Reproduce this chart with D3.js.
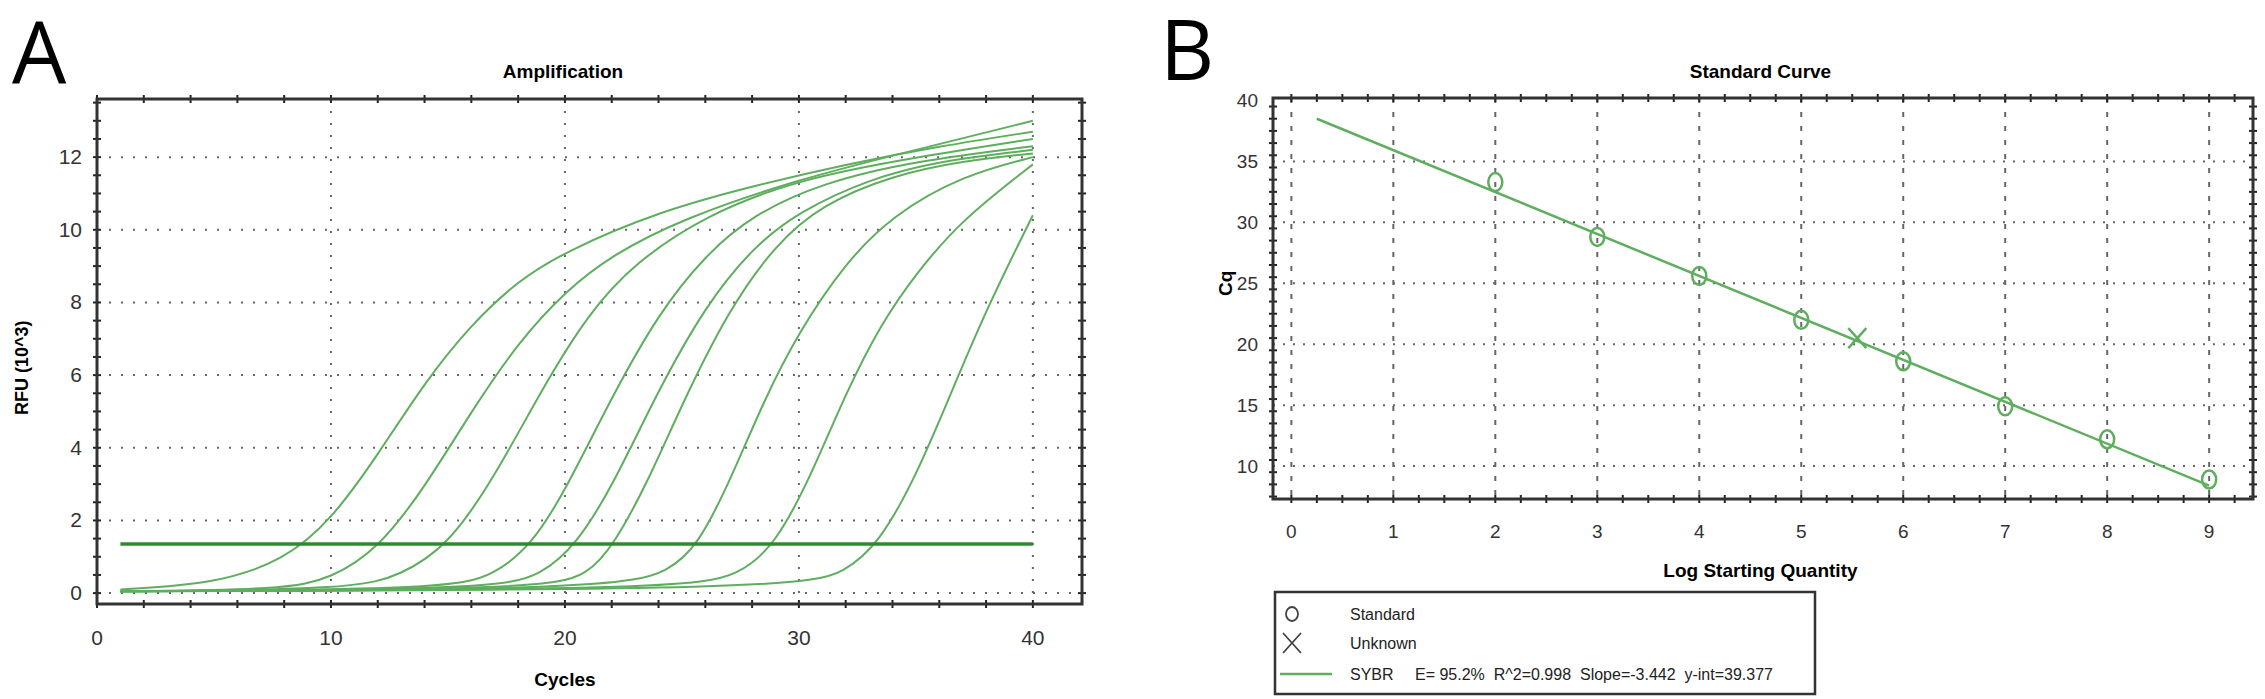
<!DOCTYPE html>
<html><head><meta charset="utf-8">
<script src="https://cdn.jsdelivr.net/npm/d3@7"></script>
<style>body{margin:0;background:#fff}svg{font-family:"Liberation Sans",Arial,sans-serif}</style>
</head><body>
<script>
// ---- data ----
const ampCurves = [
  [[1,0.1],[5,0.25],[8,0.9],[10,2],[12,3.8],[14,5.8],[16,7.4],[18,8.6],[20,9.4],[24,10.5],[28,11.2],[32,11.8],[36,12.3],[40,12.7]],
  [[1,0.05],[8,0.1],[10,0.4],[12,1.2],[14,2.9],[16,5],[18,6.9],[20,8.3],[22,9.3],[25,10.3],[30,11.4],[35,12.2],[40,13.0]],
  [[1,0.05],[11,0.1],[13,0.5],[15,1.3],[17,3.2],[19,5.6],[21,7.7],[23,9.1],[26,10.4],[30,11.4],[35,12.0],[40,12.5]],
  [[1,0.05],[15,0.1],[17,0.5],[18.6,1.35],[20,2.8],[22,5.4],[24,7.7],[26,9.3],[28,10.4],[31,11.3],[35,11.9],[40,12.3]],
  [[1,0.05],[17,0.1],[19,0.5],[20.5,1.35],[22,2.9],[24,5.6],[26,7.9],[28,9.5],[30,10.5],[33,11.4],[36,11.9],[40,12.2]],
  [[1,0.05],[19,0.1],[21,0.5],[22.1,1.35],[23.5,3],[25,5.2],[27,7.8],[29,9.6],[31,10.7],[34,11.5],[37,11.9],[40,12.1]],
  [[1,0.05],[22,0.1],[24.5,0.6],[25.7,1.35],[27,3],[28.5,5.3],[30,7.2],[32,9.1],[34,10.4],[37,11.5],[40,12.0]],
  [[1,0.05],[25,0.1],[27.5,0.5],[29,1.35],[30.5,3.2],[32,5.5],[33.5,7.4],[35,8.8],[37,10.3],[40,11.8]],
  [[1,0.05],[30,0.1],[32,0.6],[33.4,1.35],[35,3.2],[36.5,5.5],[38,7.8],[40,10.4]]
];
const threshold = 1.35;
const ampXTicks = [0, 10, 20, 30, 40];
const ampYTicks = [0, 2, 4, 6, 8, 10, 12];

const stdLog = [2, 3, 4, 5, 6, 7, 8, 9];
const stdCq = [33.3, 28.8, 25.6, 22.0, 18.6, 14.9, 12.2, 8.9];
const unknownPt = [5.55, 20.5];
const fitLine = [[0.25, 38.5], [9, 8.4]];
const stdXTicks = [0, 1, 2, 3, 4, 5, 6, 7, 8, 9];
const stdYTicks = [10, 15, 20, 25, 30, 35, 40];
const legendRows = ["Standard", "Unknown", "SYBR"];
const fitText = "E= 95.2%  R^2=0.998  Slope=-3.442  y-int=39.377";

const W = 2265, H = 699;
const lightGreen = "#5fae5f", darkGreen = "#2e8a2e";
const svg = d3.select("body").append("svg").attr("width", W).attr("height", H);

function frame(g, x, y, xMinor, yMinor) {
  const [x0, x1] = x.range(), [y1, y0] = y.range();
  // minor ticks across the frame
  xMinor.forEach(v => {
    g.append("line").attr("x1", x(v)).attr("x2", x(v)).attr("y1", y1 - 4).attr("y2", y1 + 4).attr("stroke", "#222").attr("stroke-width", 2);
    g.append("line").attr("x1", x(v)).attr("x2", x(v)).attr("y1", y0 - 4).attr("y2", y0 + 4).attr("stroke", "#222").attr("stroke-width", 2);
  });
  yMinor.forEach(v => {
    g.append("line").attr("x1", x0 - 4).attr("x2", x0 + 4).attr("y1", y(v)).attr("y2", y(v)).attr("stroke", "#222").attr("stroke-width", 2);
    g.append("line").attr("x1", x1 - 4).attr("x2", x1 + 4).attr("y1", y(v)).attr("y2", y(v)).attr("stroke", "#222").attr("stroke-width", 2);
  });
  g.append("rect").attr("x", x0).attr("y", y0).attr("width", x1 - x0).attr("height", y1 - y0)
    .attr("fill", "none").attr("stroke", "#333").attr("stroke-width", 3);
}

/***** A : Amplification *****/
const xA = d3.scaleLinear().domain([0, 42.1]).range([97, 1082]);
const yA = d3.scaleLinear().domain([-0.3, 13.6]).range([604, 99]);
const gA = svg.append("g");

gA.append("text").attr("x", 12).attr("y", 84).attr("font-size", 86).attr("font-family", "Open Sans, sans-serif").text("A");
gA.append("text").attr("x", 563).attr("y", 78).attr("text-anchor", "middle").attr("font-size", 19).attr("font-weight", "bold").text("Amplification");

ampXTicks.filter(v => v > 0).forEach(v => gA.append("line").attr("x1", xA(v)).attr("x2", xA(v)).attr("y1", yA.range()[1]).attr("y2", yA.range()[0])
  .attr("stroke", "#666").attr("stroke-width", 2).attr("stroke-dasharray", "2,10"));
ampYTicks.forEach(v => gA.append("line").attr("x1", xA.range()[0]).attr("x2", xA.range()[1]).attr("y1", yA(v)).attr("y2", yA(v))
  .attr("stroke", "#666").attr("stroke-width", 2).attr("stroke-dasharray", "2,10"));

const lineA = d3.line().x(d => xA(d[0])).y(d => yA(d[1])).curve(d3.curveBasis);
gA.selectAll("path.amp").data(ampCurves).join("path").attr("class", "amp")
  .attr("d", lineA).attr("fill", "none").attr("stroke", lightGreen).attr("stroke-width", 2);
gA.append("path").attr("d", lineA([[1, threshold], [40, threshold]])).attr("stroke", darkGreen).attr("stroke-width", 3.5);

frame(gA, xA, yA, d3.range(0, 42, 2), d3.range(0, 13.6, 0.5));

gA.selectAll("text.xt").data(ampXTicks).join("text").attr("class", "xt")
  .attr("x", d => xA(d)).attr("y", 645).attr("text-anchor", "middle").attr("font-size", 21).attr("fill", "#333").text(d => d);
gA.selectAll("text.yt").data(ampYTicks).join("text").attr("class", "yt")
  .attr("x", 82).attr("y", d => yA(d) + 7).attr("text-anchor", "end").attr("font-size", 21).attr("fill", "#333").text(d => d);
gA.append("text").attr("x", xA(20)).attr("y", 686).attr("text-anchor", "middle").attr("font-size", 19).attr("font-weight", "bold").text("Cycles");
gA.append("text").attr("transform", `translate(28,${yA(6.2)}) rotate(-90)`).attr("text-anchor", "middle")
  .attr("font-size", 18).attr("font-weight", "bold").text("RFU (10^3)");

/***** B : Standard Curve *****/
const xB = d3.scaleLinear().domain([-0.18, 9.43]).range([1273, 2253]);
const yB = d3.scaleLinear().domain([7.3, 40.2]).range([499, 98]);
const gB = svg.append("g");

gB.append("text").attr("x", 1160).attr("y", 80).attr("font-size", 84).attr("font-family", "Open Sans, sans-serif").text("B");
gB.append("text").attr("x", xB(4.6)).attr("y", 78).attr("text-anchor", "middle").attr("font-size", 19).attr("font-weight", "bold").text("Standard Curve");

stdXTicks.forEach(v => gB.append("line").attr("x1", xB(v)).attr("x2", xB(v)).attr("y1", yB.range()[1]).attr("y2", yB.range()[0])
  .attr("stroke", "#666").attr("stroke-width", 2).attr("stroke-dasharray", "5,9"));
stdYTicks.filter(v => v < 40).forEach(v => gB.append("line").attr("x1", xB.range()[0]).attr("x2", xB.range()[1]).attr("y1", yB(v)).attr("y2", yB(v))
  .attr("stroke", "#666").attr("stroke-width", 2).attr("stroke-dasharray", "2,8"));

gB.append("path").attr("d", d3.line().x(d => xB(d[0])).y(d => yB(d[1]))(fitLine))
  .attr("stroke", lightGreen).attr("stroke-width", 2.5).attr("fill", "none");
gB.selectAll("ellipse.std").data(stdLog).join("ellipse").attr("class", "std")
  .attr("cx", d => xB(d)).attr("cy", (d, i) => yB(stdCq[i])).attr("rx", 7).attr("ry", 9)
  .attr("fill", "none").attr("stroke", lightGreen).attr("stroke-width", 2.5);
const ux = xB(unknownPt[0]), uy = yB(unknownPt[1]);
gB.append("path").attr("d", `M${ux - 9},${uy - 10}L${ux + 9},${uy + 10}M${ux + 9},${uy - 10}L${ux - 9},${uy + 10}`)
  .attr("stroke", lightGreen).attr("stroke-width", 2.5);

frame(gB, xB, yB, d3.range(0, 9.5, 0.25), d3.range(7.5, 40.1, 1));

gB.selectAll("text.xt").data(stdXTicks).join("text").attr("class", "xt")
  .attr("x", d => xB(d)).attr("y", 538).attr("text-anchor", "middle").attr("font-size", 19).attr("fill", "#333").text(d => d);
gB.selectAll("text.yt").data(stdYTicks).join("text").attr("class", "yt")
  .attr("x", 1258).attr("y", d => yB(d) + 7).attr("text-anchor", "end").attr("font-size", 19).attr("fill", "#333").text(d => d);
gB.append("text").attr("x", xB(4.6)).attr("y", 577).attr("text-anchor", "middle").attr("font-size", 19).attr("font-weight", "bold").text("Log Starting Quantity");
gB.append("text").attr("transform", `translate(1232,${yB(25)}) rotate(-90)`).attr("text-anchor", "middle")
  .attr("font-size", 19).attr("font-weight", "bold").text("Cq");

// legend
const lg = gB.append("g");
lg.append("rect").attr("x", 1275).attr("y", 592).attr("width", 540).attr("height", 102)
  .attr("fill", "#fff").attr("stroke", "#333").attr("stroke-width", 2.5);
const rowY = [614, 643, 674];
lg.append("ellipse").attr("cx", 1292).attr("cy", rowY[0]).attr("rx", 6).attr("ry", 7).attr("fill", "none").attr("stroke", "#444").attr("stroke-width", 1.8);
lg.append("path").attr("d", `M1283,${rowY[1] - 10}L1301,${rowY[1] + 10}M1301,${rowY[1] - 10}L1283,${rowY[1] + 10}`).attr("stroke", "#444").attr("stroke-width", 1.8);
lg.append("line").attr("x1", 1280).attr("x2", 1332).attr("y1", rowY[2]).attr("y2", rowY[2]).attr("stroke", lightGreen).attr("stroke-width", 2.5);
lg.selectAll("text.lt").data(legendRows).join("text").attr("class", "lt")
  .attr("x", 1350).attr("y", (d, i) => rowY[i] + 6).attr("font-size", 16).attr("fill", "#222").text(d => d);
lg.append("text").attr("x", 1415).attr("y", rowY[2] + 6).attr("font-size", 16).attr("fill", "#222").attr("xml:space", "preserve").text(fitText);
</script>
</body></html>
